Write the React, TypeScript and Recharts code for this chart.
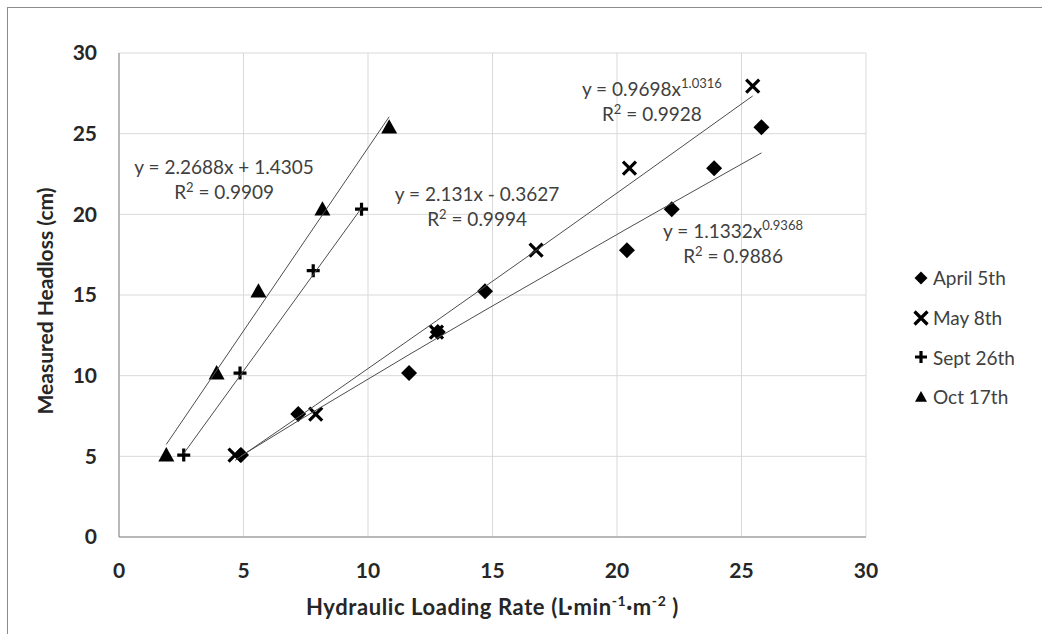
import { ScatterChart, Scatter, XAxis, YAxis, CartesianGrid, ReferenceDot, Label } from 'recharts'

const FONT = 'Lato, "Open Sans", sans-serif'
const TEXT = '#262626'

const axisTicks = [0, 5, 10, 15, 20, 25, 30]

// headloss readings (cm) against loading rate (L/min/m2)
const aprilX = [4.9, 7.2, 11.65, 12.8, 14.7, 20.4, 22.2, 23.9, 25.8]
const aprilY = [5.08, 7.62, 10.16, 12.7, 15.24, 17.78, 20.32, 22.86, 25.4]
const mayX = [4.66, 7.9, 12.75, 16.75, 20.5, 25.45]
const mayY = [5.08, 7.62, 12.7, 17.78, 22.86, 27.94]
const septX = [2.6, 4.86, 7.8, 9.74]
const septY = [5.08, 10.16, 16.51, 20.32]
const octX = [1.9, 3.92, 5.6, 8.17, 10.85]
const octY = [5.08, 10.16, 15.24, 20.32, 25.4]

const seriesNames = ['April 5th', 'May 8th', 'Sept 26th', 'Oct 17th']

// fitted trendlines as reported
const aprilFit = { a: 1.1332, b: 0.9368, r2: '0.9886' } // power
const mayFit = { a: 0.9698, b: 1.0316, r2: '0.9928' } // power
const septFit = { m: 2.131, c: -0.3627, r2: '0.9994' } // linear
const octFit = { m: 2.2688, c: 1.4305, r2: '0.9909' } // linear

const zip = (xs: number[], ys: number[]) => xs.map((x, i) => ({ x, y: ys[i] }))

const powerLine = (xs: number[], f: { a: number; b: number }) =>
  [...xs].sort((p, q) => p - q).map((x) => ({ x, y: f.a * Math.pow(x, f.b) }))
const linearLine = (xs: number[], f: { m: number; c: number }) =>
  [Math.min(...xs), Math.max(...xs)].map((x) => ({ x, y: f.m * x + f.c }))

type P = { cx?: number; cy?: number }

const Diamond = ({ cx = 0, cy = 0, s = 8 }: P & { s?: number }) => (
  <path d={`M${cx},${cy - s}L${cx + s},${cy}L${cx},${cy + s}L${cx - s},${cy}Z`} fill="#000" />
)
const Cross = ({ cx = 0, cy = 0, s = 6.5 }: P & { s?: number }) => (
  <path d={`M${cx - s},${cy - s}L${cx + s},${cy + s}M${cx + s},${cy - s}L${cx - s},${cy + s}`} stroke="#000" strokeWidth={3.2} />
)
const Plus = ({ cx = 0, cy = 0, s = 6.5 }: P & { s?: number }) => (
  <path d={`M${cx - s},${cy}L${cx + s},${cy}M${cx},${cy - s}L${cx},${cy + s}`} stroke="#000" strokeWidth={3.2} />
)
const Triangle = ({ cx = 0, cy = 0, s = 8 }: P & { s?: number }) => (
  <path d={`M${cx},${cy - s}L${cx + s},${cy + s * 0.8}L${cx - s},${cy + s * 0.8}Z`} fill="#000" />
)

const markers = [Diamond, Cross, Plus, Triangle]

const Equation = ({ cx = 0, cy = 0, head, sup, r2 }: P & { head: string; sup?: string; r2: string }) => (
  <g fontFamily={FONT} fontSize={19} fill="#404040">
    <text x={cx} y={cy} textAnchor="middle">
      <tspan>{head}</tspan>
      {sup && <tspan fontSize={13} dy={-8}>{sup}</tspan>}
    </text>
    <text x={cx} y={cy + 25} textAnchor="middle">
      <tspan>R</tspan>
      <tspan fontSize={13} dy={-7}>2</tspan>
      <tspan dy={7}>{` = ${r2}`}</tspan>
    </text>
  </g>
)

const noDot = () => <g />
const trendStroke = { stroke: '#4d4d4d', strokeWidth: 1 }

export default function App() {
  return (
    <div style={{ position: 'absolute', left: 0, top: 0, width: 1042, height: 634, background: '#fff' }}>
      <div style={{ position: 'absolute', left: 7, top: 7, right: 0, bottom: 0, borderLeft: '1px solid #8c8c8c', borderTop: '1px solid #8c8c8c' }} />
      <ScatterChart width={1042} height={634} margin={{ top: 53, right: 176, bottom: 0, left: 0 }} style={{ position: 'absolute', left: 0, top: 0 }}>
        <CartesianGrid stroke="#d9d9d9" />
        <XAxis
          type="number"
          dataKey="x"
          domain={[0, 30]}
          ticks={axisTicks}
          height={97}
          stroke="#868686"
          tickLine={false}
          tickSize={0}
          tickMargin={26}
          tick={{ fontFamily: FONT, fontSize: 21, fontWeight: 700, fill: TEXT }}
        >
          <Label
            content={({ viewBox }: any) => (
              <text x={viewBox.x + viewBox.width / 2} y={viewBox.y + 78} textAnchor="middle" fontFamily={FONT} fontSize={22} fontWeight={700} letterSpacing={0.6} fill={TEXT}>
                <tspan>Hydraulic Loading Rate (L·min</tspan>
                <tspan fontSize={14} dy={-9}>-1</tspan>
                <tspan dy={9}>·m</tspan>
                <tspan fontSize={14} dy={-9}>-2</tspan>
                <tspan dy={9}> )</tspan>
              </text>
            )}
          />
        </XAxis>
        <YAxis
          type="number"
          dataKey="y"
          domain={[0, 30]}
          ticks={axisTicks}
          width={119}
          stroke="#868686"
          tickLine={false}
          tickSize={0}
          tickMargin={22}
          tick={{ fontFamily: FONT, fontSize: 21, fontWeight: 700, fill: TEXT }}
        >
          <Label
            content={({ viewBox }: any) => {
              const x = viewBox.x + 44
              const y = viewBox.y + viewBox.height / 2 + 6
              return (
                <text x={x} y={y} transform={`rotate(-90 ${x} ${y})`} textAnchor="middle" dominantBaseline="central" fontFamily={FONT} fontSize={21} fontWeight={700} fill={TEXT}>
                  Measured Headloss (cm)
                </text>
              )
            }}
          />
        </YAxis>

        <Scatter name={seriesNames[0]} data={zip(aprilX, aprilY)} shape={(p: any) => <Diamond cx={p.cx} cy={p.cy} />} isAnimationActive={false} />
        <Scatter name={seriesNames[1]} data={zip(mayX, mayY)} shape={(p: any) => <Cross cx={p.cx} cy={p.cy} />} isAnimationActive={false} />
        <Scatter name={seriesNames[2]} data={zip(septX, septY)} shape={(p: any) => <Plus cx={p.cx} cy={p.cy} />} isAnimationActive={false} />
        <Scatter name={seriesNames[3]} data={zip(octX, octY)} shape={(p: any) => <Triangle cx={p.cx} cy={p.cy} />} isAnimationActive={false} />

        <Scatter data={powerLine(aprilX, aprilFit)} line={trendStroke} shape={noDot} legendType="none" isAnimationActive={false} />
        <Scatter data={powerLine(mayX, mayFit)} line={trendStroke} shape={noDot} legendType="none" isAnimationActive={false} />
        <Scatter data={linearLine(septX, septFit)} line={trendStroke} shape={noDot} legendType="none" isAnimationActive={false} />
        <Scatter data={linearLine(octX, octFit)} line={trendStroke} shape={noDot} legendType="none" isAnimationActive={false} />

        <ReferenceDot x={4.22} y={22.5} r={0} ifOverflow="visible"
          shape={(p: any) => <Equation cx={p.cx} cy={p.cy} head={`y = ${octFit.m}x + ${octFit.c}`} r2={octFit.r2} />} />
        <ReferenceDot x={14.38} y={20.83} r={0} ifOverflow="visible"
          shape={(p: any) => <Equation cx={p.cx} cy={p.cy} head={`y = ${septFit.m}x - ${Math.abs(septFit.c)}`} r2={septFit.r2} />} />
        <ReferenceDot x={21.4} y={27.34} r={0} ifOverflow="visible"
          shape={(p: any) => <Equation cx={p.cx} cy={p.cy} head={`y = ${mayFit.a}x`} sup={String(mayFit.b)} r2={mayFit.r2} />} />
        <ReferenceDot x={24.66} y={18.54} r={0} ifOverflow="visible"
          shape={(p: any) => <Equation cx={p.cx} cy={p.cy} head={`y = ${aprilFit.a}x`} sup={String(aprilFit.b)} r2={aprilFit.r2} />} />
      </ScatterChart>

      <div style={{ position: 'absolute', left: 912, top: 258, fontFamily: FONT, fontSize: 19, color: '#404040' }}>
        {seriesNames.map((name, i) => {
          const M = markers[i]
          return (
            <div key={name} style={{ display: 'flex', alignItems: 'center', height: 39.7 }}>
              <svg width={18} height={18} style={{ marginRight: 3 }}>
                <M cx={9} cy={9} s={i < 2 ? 6.5 : 6} />
              </svg>
              <span>{name}</span>
            </div>
          )
        })}
      </div>
    </div>
  )
}
